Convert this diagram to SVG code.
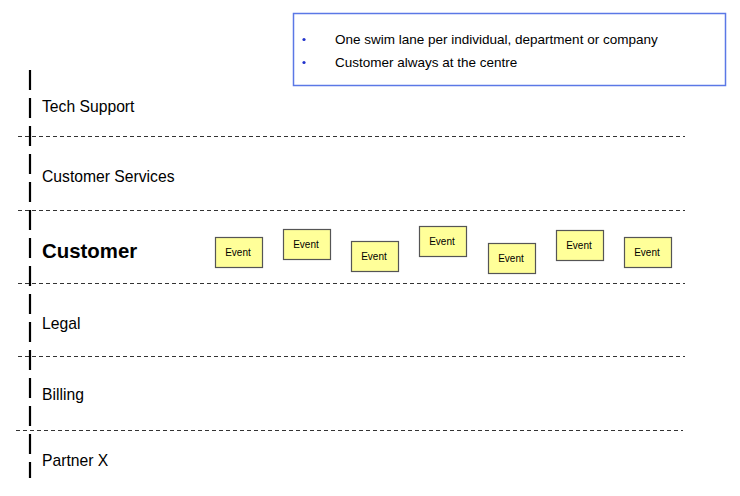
<svg xmlns="http://www.w3.org/2000/svg" width="740" height="496" viewBox="0 0 740 496">
<style>
.lane{stroke:#333;stroke-width:1;stroke-dasharray:4 3;fill:none}
.lbl{font-family:"Liberation Sans",Arial,sans-serif;font-size:15.7px;fill:#000}
.ev rect{fill:#ffff99;stroke:#555;stroke-width:1.2}
.ev text{font-family:"Liberation Sans",Arial,sans-serif;font-size:10px;fill:#000;text-anchor:middle}
.note{font-family:"Liberation Sans",Arial,sans-serif;font-size:13.5px;fill:#000}
</style>
<rect width="740" height="496" fill="#fff"/>
<g id="note">
<rect x="293.5" y="13.5" width="432" height="72" fill="#fff" stroke="#5b78e6" stroke-width="1.5"/>
<circle cx="304" cy="39.5" r="1.6" fill="#2233cc"/>
<circle cx="304" cy="62.5" r="1.6" fill="#2233cc"/>
<text class="note" x="335" y="44">One swim lane per individual, department or company</text>
<text class="note" x="335" y="67">Customer always at the centre</text>
</g>
<g id="connectors">
<line x1="30" y1="70" x2="30" y2="478" stroke="#000" stroke-width="2.2" stroke-dasharray="20 8"/>
<line class="lane" x1="18" y1="136.5" x2="685" y2="136.5"/>
<line class="lane" x1="18" y1="210.5" x2="685" y2="210.5"/>
<line class="lane" x1="18" y1="283.5" x2="685" y2="283.5"/>
<line class="lane" x1="18" y1="356.5" x2="685" y2="356.5"/>
<line class="lane" x1="16" y1="430.5" x2="683" y2="430.5"/>
</g>
<g id="lane-tech-support"><text class="lbl" x="42" y="112">Tech Support</text></g>
<g id="lane-customer-services"><text class="lbl" x="42" y="182">Customer Services</text></g>
<g id="lane-customer"><text class="lbl" x="42" y="258" style="font-size:20.4px;font-weight:bold">Customer</text></g>
<g id="lane-legal"><text class="lbl" x="42" y="329">Legal</text></g>
<g id="lane-billing"><text class="lbl" x="42" y="400">Billing</text></g>
<g id="lane-partner-x"><text class="lbl" x="42" y="466">Partner X</text></g>
<g id="event1" class="ev"><rect x="215.5" y="237.5" width="47" height="30"/><text x="238" y="256">Event</text></g>
<g id="event2" class="ev"><rect x="283.5" y="229.5" width="47" height="30"/><text x="306" y="248">Event</text></g>
<g id="event3" class="ev"><rect x="351.5" y="241.5" width="47" height="30"/><text x="374" y="260">Event</text></g>
<g id="event4" class="ev"><rect x="419.5" y="226.5" width="47" height="30"/><text x="442" y="245">Event</text></g>
<g id="event5" class="ev"><rect x="488.5" y="243.5" width="47" height="30"/><text x="511" y="262">Event</text></g>
<g id="event6" class="ev"><rect x="556.5" y="230.5" width="47" height="30"/><text x="579" y="249">Event</text></g>
<g id="event7" class="ev"><rect x="624.5" y="237.5" width="47" height="30"/><text x="647" y="256">Event</text></g>
</svg>
